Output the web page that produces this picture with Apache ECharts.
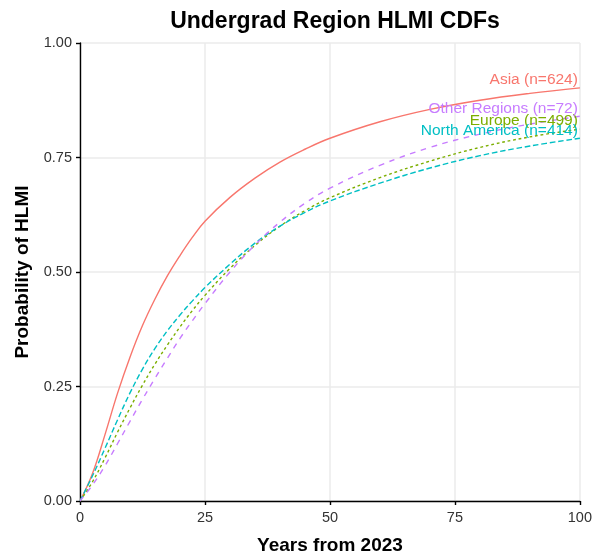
<!DOCTYPE html>
<html>
<head>
<meta charset="utf-8">
<script src="https://cdn.jsdelivr.net/npm/echarts@6/dist/echarts.min.js"></script>
<style>
  html, body { margin: 0; padding: 0; background: #ffffff; }
  #chart { width: 595px; height: 560px; }
</style>
</head>
<body>
<div id="chart"></div>
<script>
// Years from 2023 at which each CDF is sampled
const years = [0, 2.5, 5, 7.5, 10, 12.5, 15, 17.5, 20, 22.5, 25, 30, 35, 40, 45, 50, 60, 70, 80, 90, 100];

// Cumulative probability of HLMI by region
const asia         = [0, 0.060, 0.145, 0.235, 0.314, 0.383, 0.441, 0.492, 0.536, 0.576, 0.611, 0.663, 0.705, 0.740, 0.768, 0.792, 0.828, 0.855, 0.875, 0.890, 0.902];
const europe       = [0, 0.042, 0.094, 0.150, 0.203, 0.253, 0.299, 0.341, 0.380, 0.416, 0.449, 0.508, 0.558, 0.600, 0.634, 0.662, 0.706, 0.742, 0.772, 0.795, 0.812];
const northAmerica = [0, 0.055, 0.115, 0.177, 0.236, 0.288, 0.333, 0.372, 0.406, 0.437, 0.466, 0.517, 0.563, 0.600, 0.630, 0.655, 0.694, 0.727, 0.754, 0.775, 0.792];
const otherRegions = [0, 0.035, 0.077, 0.125, 0.174, 0.222, 0.268, 0.312, 0.355, 0.394, 0.431, 0.500, 0.559, 0.609, 0.650, 0.683, 0.733, 0.772, 0.801, 0.823, 0.840];

// Region names and respondent counts
const regions = ['Asia', 'Europe', 'North America', 'Other Regions'];
const counts  = [624, 499, 414, 72];

// Axis ticks
const xTicks = [0, 25, 50, 75, 100];
const yTicks = [0, 0.25, 0.5, 0.75, 1];

const seriesValues = [asia, europe, northAmerica, otherRegions];
const colors = ['#F8766D', '#7CAE00', '#00BFC4', '#C77CFF'];
const dashes = ['solid', [2.8, 2.8], [5.6, 2.8], [5.6, 5.6]];
const FONT = '"Liberation Sans", Arial, Helvetica, sans-serif';

const chart = echarts.init(document.getElementById('chart'), null, { renderer: 'canvas' });

const series = regions.map(function (name, i) {
  const vals = seriesValues[i];
  const data = years.map(function (x, j) { return [x, vals[j]]; });
  const last = data[data.length - 1];
  return {
    name: name,
    type: 'line',
    data: data,
    smooth: 0.4,
    showSymbol: false,
    symbol: 'none',
    lineStyle: { color: colors[i], width: 1.4, type: dashes[i], cap: 'butt' },
    itemStyle: { color: colors[i] },
    z: 3,
    markPoint: {
      symbol: 'circle',
      symbolSize: 0,
      silent: true,
      data: [{ coord: last }],
      label: {
        show: true,
        position: 'top',
        distance: 0,
        align: 'right',
        offset: [-2, 0],
        formatter: name + ' (n=' + counts[i] + ')',
        color: colors[i],
        fontSize: 15.5,
        fontFamily: FONT
      }
    }
  };
});

chart.setOption({
  animation: false,
  backgroundColor: '#ffffff',
  title: {
    text: 'Undergrad Region HLMI CDFs',
    left: 330,
    textAlign: 'center',
    top: 5,
    textStyle: { fontSize: 23, fontWeight: 'bold', color: '#000000', fontFamily: FONT }
  },
  grid: { left: 80, right: 15, top: 43, bottom: 53, containLabel: false },
  xAxis: {
    type: 'value',
    min: xTicks[0],
    max: xTicks[xTicks.length - 1],
    interval: xTicks[1] - xTicks[0],
    name: 'Years from 2023',
    nameLocation: 'middle',
    nameGap: 35,
    nameTextStyle: { fontSize: 19, fontWeight: 'bold', color: '#000000', fontFamily: FONT },
    axisLine: { show: true, onZero: false, lineStyle: { color: '#000000', width: 1.4 } },
    axisTick: { show: true, length: 4, lineStyle: { color: '#000000', width: 1.4 } },
    axisLabel: { margin: 9, fontSize: 14.5, color: '#333333', fontFamily: FONT },
    splitLine: { show: true, lineStyle: { color: '#EBEBEB', width: 1.5 } }
  },
  yAxis: {
    type: 'value',
    min: yTicks[0],
    max: yTicks[yTicks.length - 1],
    interval: yTicks[1] - yTicks[0],
    name: 'Probability of HLMI',
    nameLocation: 'middle',
    nameGap: 48,
    nameTextStyle: { fontSize: 19, fontWeight: 'bold', color: '#000000', fontFamily: FONT },
    axisLine: { show: true, onZero: false, lineStyle: { color: '#000000', width: 1.4 } },
    axisTick: { show: true, length: 4, lineStyle: { color: '#000000', width: 1.4 } },
    axisLabel: {
      margin: 8,
      fontSize: 14.5,
      color: '#333333',
      fontFamily: FONT,
      formatter: function (v) { return v.toFixed(2); }
    },
    splitLine: { show: true, lineStyle: { color: '#EBEBEB', width: 1.5 } }
  },
  series: series
});
</script>
</body>
</html>
